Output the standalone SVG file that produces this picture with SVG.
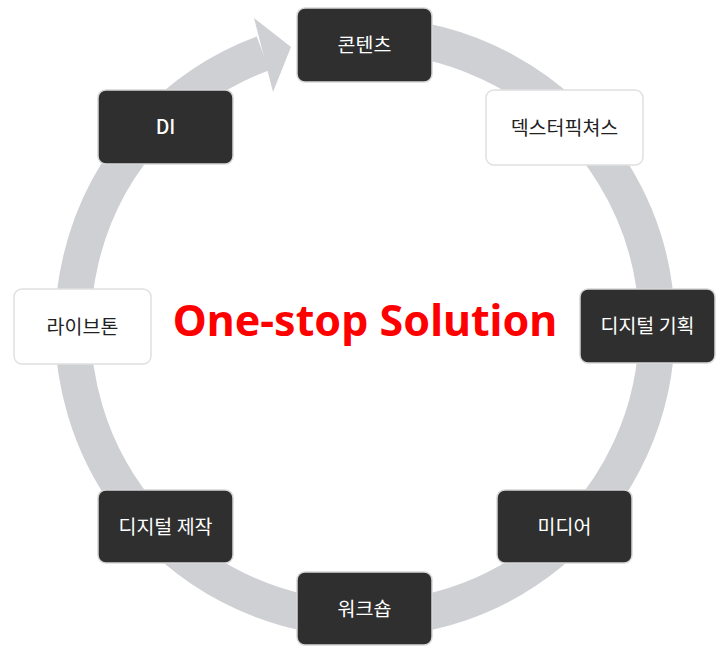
<svg xmlns="http://www.w3.org/2000/svg" width="720" height="655" viewBox="0 0 720 655">
<style>
.dark rect{fill:#2f2f2f;stroke:#d6d6d6;stroke-width:1.5}
.light rect{fill:#ffffff;stroke:#e0e0e0;stroke-width:1.5}
.dark text{fill:#ffffff}
.light text{fill:#222222}
text{font-family:"Noto Sans CJK KR","Noto Sans",sans-serif;font-size:19.5px;text-anchor:middle}
.title{font-family:"Noto Sans","Open Sans",sans-serif;font-weight:bold;font-size:43px;fill:#ff0000}
</style>
<rect width="720" height="655" fill="#ffffff"/>
<g id="connectors">
<path d="M375.2,35.2 A292,292 0 1 1 263,53.4" fill="none" stroke="#cfd0d4" stroke-width="36"/>
<polygon points="254,18 291,47 273,92" fill="#cfd0d4"/>
</g>
<text class="title" x="365" y="336">One-stop Solution</text>
<g id="n-contents" class="dark"><rect x="297" y="8" width="135" height="74" rx="8"/><text x="364.5" y="52">콘텐츠</text></g>
<g id="n-dexter" class="light"><rect x="486" y="90" width="157" height="75" rx="8"/><text x="564.5" y="134.5">덱스터픽쳐스</text></g>
<g id="n-digital-plan" class="dark"><rect x="580" y="289" width="135" height="74" rx="8"/><text x="647.5" y="333">디지털 기획</text></g>
<g id="n-media" class="dark"><rect x="497" y="490" width="135" height="73" rx="8"/><text x="564.5" y="533.5">미디어</text></g>
<g id="n-workshop" class="dark"><rect x="297" y="572" width="135" height="73" rx="8"/><text x="364.5" y="615.5">워크숍</text></g>
<g id="n-digital-make" class="dark"><rect x="98" y="490" width="135" height="73" rx="8"/><text x="165.5" y="533.5">디지털 제작</text></g>
<g id="n-livetone" class="light"><rect x="14" y="289" width="137" height="75" rx="8"/><text x="82.5" y="333.5">라이브톤</text></g>
<g id="n-di" class="dark"><rect x="98" y="90" width="135" height="74" rx="8"/><text x="165.5" y="134" font-weight="500">DI</text></g>
</svg>
